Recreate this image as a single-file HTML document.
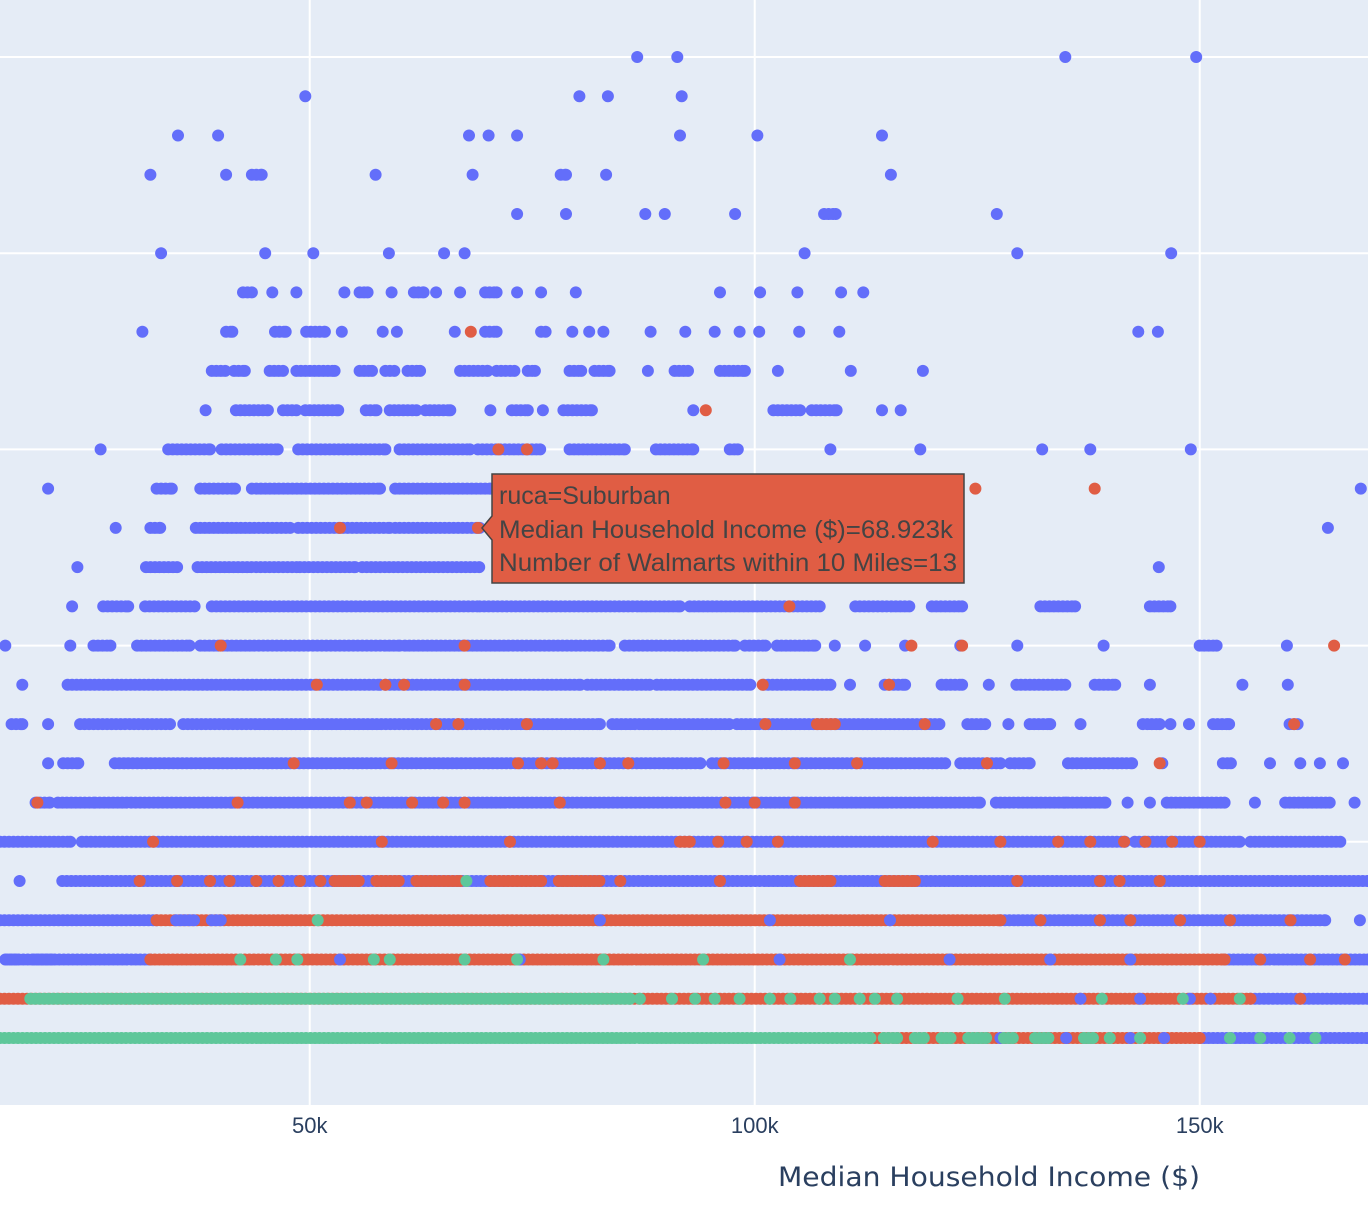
<!DOCTYPE html>
<html><head><meta charset="utf-8"><style>
html,body{margin:0;padding:0;background:#fff;}
svg{display:block;font-family:"Liberation Sans",sans-serif;}
</style></head><body>
<svg id="chart" width="1368" height="1210" xmlns="http://www.w3.org/2000/svg">
<rect x="0" y="0" width="1368" height="1105" fill="#e5ecf6"/>
<g id="grid"></g>
<g id="pts"></g>
<g id="xt"></g>
<text x="989" y="1186" font-size="27" fill="#2a3f5f" text-anchor="middle" font-family="DejaVu Sans, sans-serif" textLength="422" lengthAdjust="spacingAndGlyphs">Median Household Income ($)</text>
<g>
<path d="M492,474 H964 V583 H492 V540 L482,528 L492,516 Z" fill="#e05d44" stroke="#444" stroke-width="1.5"/>
<text x="499" y="504" font-size="25" fill="#444">ruca=Suburban</text>
<text x="499" y="538" font-size="25" fill="#444" textLength="454" lengthAdjust="spacingAndGlyphs">Median Household Income ($)=68.923k</text>
<text x="499" y="571" font-size="25" fill="#444" textLength="458" lengthAdjust="spacingAndGlyphs">Number of Walmarts within 10 Miles=13</text>
</g>
</svg>
<script>
const xTicks=[50,100,150];
const yTicks=[0,5,10,15,20,25];
// runs: [walmartCount, incomeStart(k$), incomeEnd(k$)]
const blueRuns=[
[25,86.8,86.8],[25,91.3,91.3],[25,134.9,134.9],[25,149.6,149.6],
[24,49.5,49.5],[24,80.3,80.3],[24,83.5,83.5],[24,91.8,91.8],
[23,35.2,35.2],[23,39.7,39.7],[23,67.9,67.9],[23,70.1,70.1],[23,73.3,73.3],[23,91.6,91.6],[23,100.3,100.3],[23,114.3,114.3],
[22,32.1,32.1],[22,40.6,40.6],[22,43.5,44.6],[22,57.4,57.4],[22,68.3,68.3],[22,78.2,78.8],[22,83.3,83.3],[22,115.3,115.3],
[21,73.3,73.3],[21,78.8,78.8],[21,87.7,87.7],[21,89.9,89.9],[21,97.8,97.8],[21,107.8,109.1],[21,127.2,127.2],
[20,33.3,33.3],[20,45,45],[20,50.4,50.4],[20,58.9,58.9],[20,65.1,65.1],[20,67.4,67.4],[20,105.6,105.6],[20,129.5,129.5],[20,146.8,146.8],
[19,42.5,43.5],[19,45.8,45.8],[19,48.5,48.5],[19,53.9,53.9],[19,55.6,56.5],[19,59.2,59.2],[19,61.7,62.8],[19,64.2,64.2],[19,66.9,66.9],[19,69.7,71],[19,73.3,73.3],[19,76,76],[19,79.9,79.9],[19,96.1,96.1],[19,100.6,100.6],[19,104.8,104.8],[19,109.7,109.7],[19,112.2,112.2],
[18,31.2,31.2],[18,40.6,41.3],[18,46.1,47.3],[18,49.6,51.7],[18,53.6,53.6],[18,58.2,58.2],[18,59.8,59.8],[18,66.3,66.3],[18,69.7,71],[18,76,76.5],[18,79.5,79.5],[18,81.4,81.4],[18,83,83],[18,88.3,88.3],[18,92.2,92.2],[18,95.5,95.5],[18,98.3,98.3],[18,100.5,100.5],[18,105,105],[18,109.5,109.5],[18,143.1,143.1],[18,145.3,145.3],
[17,39,40.5],[17,41.5,42.7],[17,45.5,47],[17,48.5,52.8],[17,55.6,57],[17,58.5,59.5],[17,61,62.4],[17,66.9,70],[17,71,73],[17,74.5,75.3],[17,79.2,80.5],[17,82,83.7],[17,88,88],[17,91,92.5],[17,96.1,98.9],[17,102.6,102.6],[17,110.8,110.8],[17,118.9,118.9],
[16,38.3,38.3],[16,41.7,45.3],[16,47,48.5],[16,49.5,53.2],[16,56.3,57.5],[16,59,62],[16,63,65.8],[16,70.3,70.3],[16,72.7,74.5],[16,76.2,76.2],[16,78.5,81.7],[16,93.1,93.1],[16,102.1,105.1],[16,106.4,109.2],[16,114.3,114.3],[16,116.4,116.4],
[15,26.5,26.5],[15,34.1,38.8],[15,40.1,46.4],[15,48.7,58.5],[15,60.1,68],[15,68.9,75.9],[15,79.2,85.4],[15,88.9,93.1],[15,97.2,98.1],[15,108.5,108.5],[15,118.6,118.6],[15,132.3,132.3],[15,137.7,137.7],[15,149,149],
[14,20.6,20.6],[14,32.8,34.5],[14,37.7,41.6],[14,43.5,57.9],[14,59.6,70.3],[14,168.1,168.1],
[13,28.2,28.2],[13,32.1,33.2],[13,37.2,47.8],[13,48.7,59],[13,59.6,69.1],[13,164.4,164.4],
[12,23.9,23.9],[12,31.6,35.1],[12,37.4,48.9],[12,48.9,55.1],[12,55.9,69.1],[12,145.4,145.4],
[11,23.3,23.3],[11,26.8,29.6],[11,31.5,37.1],[11,39,69.1],[11,69.6,91.6],[11,92.7,107.3],[11,111.3,117.4],[11,119.9,123.3],[11,132.1,136],[11,144.4,146.7],
[10,15.8,15.8],[10,23.1,23.1],[10,25.7,27.6],[10,30.6,36.5],[10,37.7,60.1],[10,60.7,83.7],[10,85.4,97.8],[10,98.9,101.2],[10,102.5,106.8],[10,109,109],[10,112.4,112.4],[10,116.9,116.9],[10,123.1,123.1],[10,129.5,129.5],[10,139.2,139.2],[10,150,151.9],[10,159.8,159.8],
[9,17.7,17.7],[9,22.8,57.9],[9,58.5,80.4],[9,81.2,88.2],[9,89,99.5],[9,101,108.5],[9,110.7,110.7],[9,114.6,116.9],[9,121,123.3],[9,126.3,126.3],[9,129.4,134.9],[9,138.2,140.5],[9,144.4,144.4],[9,154.8,154.8],[9,159.9,159.9],
[8,16.5,17.7],[8,20.6,20.6],[8,24.2,34.3],[8,35.8,82.6],[8,84,97.2],[8,98,120.8],[8,123.9,125.9],[8,128.5,128.5],[8,130.9,133.2],[8,136.6,136.6],[8,143.6,145.5],[8,146.7,146.7],[8,148.8,148.8],[8,151.5,153.3],[8,160.1,161],
[7,20.6,20.6],[7,22.3,24],[7,28.1,93.9],[7,95.2,121.4],[7,123.1,127.6],[7,128.7,130.9],[7,135.2,142.4],[7,145.8,145.8],[7,152.6,153.5],[7,157.9,157.9],[7,161.3,161.3],[7,163.5,163.5],[7,166.1,166.1],
[6,19.2,20.8],[6,21.7,25.9],[6,26.4,41.3],[6,41.6,125.3],[6,127.1,134.9],[6,135.2,139.4],[6,141.9,141.9],[6,144.4,144.4],[6,146.3,152.8],[6,156.2,156.2],[6,159.6,164.6],[6,167.4,167.4],
[5,15.2,23.1],[5,24.4,141.6],[5,142.7,154.5],[5,155.7,165.8],
[4,17.4,17.4],[4,22.2,168.9],
[3,15.2,32.8],[3,127.6,164.1],[3,168,168],
[2,15.8,32.1],[2,152.8,168.9],
[1,155.7,168.9],
[0,150,168.9]
];
const redRuns=[
[18,68.1,68.1],[16,94.5,94.5],[15,71.2,71.2],[15,74.4,74.4],[14,124.8,124.8],[14,138.2,138.2],[13,53.4,53.4],[13,68.9,68.9],
[11,103.9,103.9],[10,40,40],[10,67.4,67.4],[10,117.6,117.6],[10,123.3,123.3],[10,165.1,165.1],
[9,50.8,50.8],[9,58.5,58.5],[9,60.6,60.6],[9,67.4,67.4],[9,100.9,100.9],[9,115.1,115.1],
[8,64.2,64.2],[8,66.7,66.7],[8,74.4,74.4],[8,101.2,101.2],[8,107,109],[8,119.1,119.1],[8,160.6,160.6],
[7,48.2,48.2],[7,59.2,59.2],[7,73.4,73.4],[7,76,76],[7,77.3,77.3],[7,82.6,82.6],[7,85.8,85.8],[7,96.5,96.5],[7,104.5,104.5],[7,111.5,111.5],[7,126.1,126.1],[7,145.5,145.5],
[6,19.4,19.4],[6,41.9,41.9],[6,54.5,54.5],[6,56.4,56.4],[6,61.5,61.5],[6,65,65],[6,67.4,67.4],[6,78.1,78.1],[6,96.7,96.7],[6,100,100],[6,104.5,104.5],
[5,32.4,32.4],[5,58.1,58.1],[5,72.5,72.5],[5,91.6,92.7],[5,95.9,95.9],[5,99.1,99.1],[5,102.6,102.6],[5,120,120],[5,127.6,127.6],[5,134.1,134.1],[5,137.7,137.7],[5,141.5,141.5],[5,143.9,143.9],[5,146.9,146.9],[5,150,150],
[4,30.9,30.9],[4,35.1,35.1],[4,38.8,38.8],[4,41,41],[4,44,44],[4,46.5,46.5],[4,48.9,48.9],[4,51.2,51.2],[4,52.8,55.5],[4,57.5,60],[4,62,66.9],[4,70.3,76],[4,78,82.6],[4,84.9,84.9],[4,96.1,96.1],[4,105.1,108.5],[4,114.6,118],[4,129.5,129.5],[4,138.8,138.8],[4,141,141],[4,145.5,145.5],
[3,32.8,127.6],[3,132.1,132.1],[3,138.8,138.8],[3,142.2,142.2],[3,147.8,147.8],[3,153.4,153.4],[3,160.2,160.2],
[2,32.1,152.8],[2,156.8,156.8],[2,162.4,162.4],[2,166.3,166.3],
[1,15.2,155.7],[1,161.3,161.3],
[0,113,150]
];
const blueExtras=[[3,35,37],[3,39,40],[3,82.6,82.6],[3,101.7,101.7],[3,115.2,115.2],[2,16,17],[2,19,21],[2,53.4,53.4],[2,73.6,73.6],[2,102.8,102.8],[2,121.9,121.9],[2,133.2,133.2],[2,142.2,142.2],[1,136.6,136.6],[1,143.3,143.3],[1,148.9,148.9],[1,151.2,151.2],[0,127.6,127.6],[0,135,135],[0,142.2,142.2],[0,146,146]];
const greenRuns=[
[4,67.6,67.6],[3,50.9,50.9],
[2,42.2,42.2],[2,46.2,46.2],[2,48.6,48.6],[2,57.2,57.2],[2,59,59],[2,67.4,67.4],[2,73.3,73.3],[2,83,83],[2,94.2,94.2],[2,110.7,110.7],
[1,18.6,86],[1,87.1,87.1],[1,90.7,90.7],[1,93.3,93.3],[1,95.5,95.5],[1,98.3,98.3],[1,101.7,101.7],[1,104,104],[1,107.3,107.3],[1,109,109],[1,111.8,111.8],[1,113.5,113.5],[1,116,116],[1,122.8,122.8],[1,128.1,128.1],[1,139,139],[1,148.1,148.1],[1,154.5,154.5],
[0,15.2,113],[0,114.5,116],[0,118,119],[0,121,122],[0,124,126],[0,128,129],[0,131.5,133],[0,137,138],[0,139.9,139.9],[0,143.3,143.3],[0,153.4,153.4],[0,156.8,156.8],[0,160.1,160.1],[0,163,163]
];
const X0=15.2, PXK=8.9, Y0=1038, ROWH=39.24;
function xs(v){return (v-X0)*PXK;}
function ys(k){return Y0-k*ROWH;}
const NS="http://www.w3.org/2000/svg";
const grid=document.getElementById('grid');
xTicks.forEach(t=>{const l=document.createElementNS(NS,'line');


l.setAttribute('x1',xs(t));l.setAttribute('x2',xs(t));l.setAttribute('y1',0);l.setAttribute('y2',1105);l.setAttribute('stroke','#fff');l.setAttribute('stroke-width',2);grid.appendChild(l);
const tx=document.createElementNS(NS,'text');


tx.setAttribute('x',xs(t));tx.setAttribute('y',1133);tx.setAttribute('font-size',22);tx.setAttribute('fill','#2a3f5f');tx.setAttribute('text-anchor','middle');tx.textContent=t+'k';document.getElementById('xt').appendChild(tx);});
yTicks.forEach(t=>{const l=document.createElementNS(NS,'line');


l.setAttribute('x1',0);l.setAttribute('x2',1368);l.setAttribute('y1',ys(t));l.setAttribute('y2',ys(t));l.setAttribute('stroke','#fff');l.setAttribute('stroke-width',2);grid.appendChild(l);});
const pts=document.getElementById('pts');
function draw(runs,color,name){
 let d='';
 runs.forEach(r=>{const y=ys(r[0]);let a=xs(r[1]),b=xs(r[2]);
  for(let x=a;x<=b+0.01;x+=4.5){d+='M'+(x-6).toFixed(1)+','+y.toFixed(1)+'a6,6 0 1,0 12,0a6,6 0 1,0 -12,0';}
  if(b-a>0.01 && ((b-a)%4.5)>0.5){d+='M'+(b-6).toFixed(1)+','+y.toFixed(1)+'a6,6 0 1,0 12,0a6,6 0 1,0 -12,0';}
 });
 const p=document.createElementNS(NS,'path');
 
 
 p.setAttribute('d',d);p.setAttribute('fill',color);pts.appendChild(p);
}
draw(blueRuns,'#636efa','rural-points');
draw(redRuns,'#e05d44','suburban-points');
draw(blueExtras,'#636efa','rural-points-overlay');
draw(greenRuns,'#5ec79a','urban-points');
</script>
</body></html>
